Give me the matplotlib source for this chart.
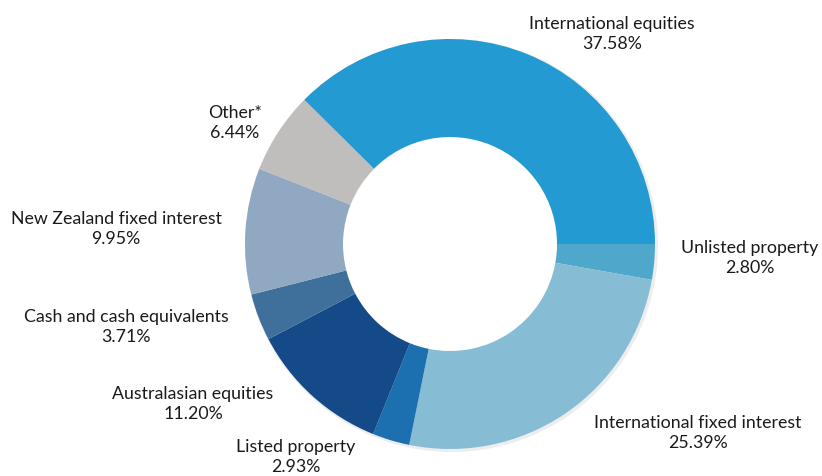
import matplotlib.pyplot as plt

plt.rcParams["font.family"] = ["Lato", "DejaVu Sans"]

# Asset allocation, clockwise from 3 o'clock
sectors = [
    "Unlisted property",
    "International fixed interest",
    "Listed property",
    "Australasian equities",
    "Cash and cash equivalents",
    "New Zealand fixed interest",
    "Other*",
    "International equities",
]
shares = [2.80, 25.39, 2.93, 11.20, 3.71, 9.95, 6.44, 37.58]
colors = ["#4fa7cb", "#86bdd5", "#1d70b0", "#134a87", "#3f6f9b",
          "#91a8c3", "#bfbebd", "#239ad2"]

# label anchor points in pixel coordinates (x, y from top)
label_xy = [(750, 258), (698, 433), (296, 457), (193, 404),
            (126, 327), (116, 229), (235, 123), (612, 34)]

W, H = 822, 477
fig = plt.figure(figsize=(W / 100, H / 100), dpi=100)
ax = fig.add_axes([0, 0, 1, 1])

cx, cy, r_out, r_in = 450, H - 245, 205, 107

# faint shadow under the ring
ax.pie([1], radius=r_out + 1.5, center=(cx + 1.5, cy - 1.5), colors=["#ededed"],
       wedgeprops=dict(width=r_out - r_in, edgecolor="none"))
ax.pie(shares, radius=r_out, center=(cx, cy), colors=colors,
       startangle=0, counterclock=False,
       wedgeprops=dict(width=r_out - r_in, edgecolor="none"))

for name, val, (x, y) in zip(sectors, shares, label_xy):
    ax.text(x, H - y, f"{name}\n{val:.2f}%", ha="center", va="center",
            fontsize=12.8, color="#1a1a1a", linespacing=1.3)

ax.set_xlim(0, W)
ax.set_ylim(0, H)
ax.set_aspect("equal")
ax.axis("off")

fig.savefig("out.png", dpi=100, facecolor="white")
